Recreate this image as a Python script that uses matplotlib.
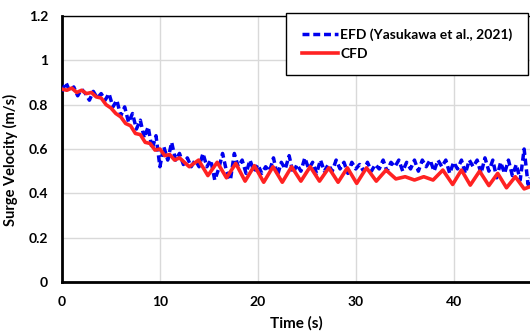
import numpy as np
import matplotlib
matplotlib.use("Agg")
import matplotlib.pyplot as plt

plt.rcParams['font.family'] = ['Lato', 'DejaVu Sans']
plt.rcParams['font.weight'] = 'bold'

# ---- data ----
efd_t = list(np.round(np.arange(0, 47.7, 0.4), 1)) + [47.8]
efd_v = [0.86, 0.90, 0.86, 0.88, 0.84, 0.87, 0.85, 0.82, 0.86, 0.83,
         0.85, 0.82, 0.85, 0.79, 0.82, 0.75, 0.79, 0.72, 0.76, 0.69,
         0.73, 0.65, 0.70, 0.60, 0.66, 0.52, 0.61, 0.55, 0.63, 0.55,
         0.58, 0.53, 0.56, 0.52, 0.55, 0.52, 0.58, 0.52, 0.55, 0.46,
         0.51, 0.58, 0.50, 0.46, 0.58, 0.52, 0.55, 0.49, 0.55, 0.50,
         0.53, 0.49, 0.52, 0.50, 0.56, 0.48, 0.54, 0.51, 0.57, 0.49,
         0.53, 0.50, 0.56, 0.51, 0.54, 0.49, 0.55, 0.50, 0.53, 0.50,
         0.55, 0.51, 0.54, 0.49, 0.54, 0.51, 0.53, 0.50, 0.54, 0.50,
         0.53, 0.51, 0.55, 0.50, 0.54, 0.52, 0.55, 0.50, 0.54, 0.51,
         0.55, 0.50, 0.55, 0.52, 0.55, 0.50, 0.55, 0.52, 0.55, 0.49,
         0.54, 0.51, 0.55, 0.49, 0.55, 0.52, 0.55, 0.49, 0.56, 0.50,
         0.55, 0.47, 0.54, 0.49, 0.55, 0.48, 0.53, 0.46, 0.60, 0.44,
         0.47]

cfd_t = [0.0, 0.5, 1.0, 1.5, 2.0, 2.5, 3.0, 3.5, 4.0, 4.5, 5.0, 5.5, 6.0,
         6.5, 7.0, 7.5, 8.0, 8.5, 9.0, 9.5, 10.0, 10.5, 11.0, 11.5, 12.0,
         12.5, 13.0, 13.95, 14.9, 15.85, 16.8, 17.75, 18.7, 19.65, 20.6,
         21.55, 22.5, 23.45, 24.4, 25.35, 26.3, 27.25, 28.2, 29.15, 30.1,
         31.1, 32.1, 33.1, 34.1, 35.05, 36.0, 36.95, 37.9, 38.9, 39.9,
         40.8, 41.7, 42.65, 43.6, 44.5, 45.4, 46.3, 47.2, 47.8]
cfd_v = [0.87, 0.865, 0.875, 0.855, 0.865, 0.85, 0.855, 0.835, 0.83, 0.80,
         0.785, 0.76, 0.745, 0.715, 0.705, 0.67, 0.665, 0.63, 0.625, 0.595,
         0.60, 0.57, 0.575, 0.55, 0.56, 0.54, 0.52, 0.55, 0.48, 0.54,
         0.47, 0.535, 0.455, 0.525, 0.45, 0.52, 0.45, 0.52, 0.455, 0.52,
         0.455, 0.515, 0.45, 0.515, 0.445, 0.515, 0.455, 0.505, 0.465, 0.475,
         0.46, 0.475, 0.46, 0.505, 0.44, 0.505, 0.437, 0.50, 0.435, 0.49,
         0.425, 0.475, 0.42, 0.43]

start_t = [0.0, 0.0]
start_v = [0.40, 0.87]

x_ticks = [0, 10, 20, 30, 40]
y_ticks = [0, 0.2, 0.4, 0.6, 0.8, 1.0, 1.2]
y_tick_labels = ['0', '0.2', '0.4', '0.6', '0.8', '1', '1.2']

# ---- figure ----
fig = plt.figure(figsize=(5.3, 3.36), dpi=100)
ax = fig.add_axes([62/530, 1-282/336, 1-62/530, (282-16)/336])

ax.plot(start_t, start_v, color='#a6a6a6', lw=2.2, solid_capstyle='butt', zorder=2)
ax.plot(efd_t, efd_v, color='#0000ee', lw=2.5, linestyle=(0, (2.0, 1.1)),
        label='EFD (Yasukawa et al., 2021)', zorder=3)
ax.plot(cfd_t, cfd_v, color='#ff2222', lw=2.6, label='CFD', zorder=4,
        solid_joinstyle='round')

ax.set_xlim(0, 47.8)
ax.set_ylim(0, 1.2)
ax.set_xticks(x_ticks)
ax.set_yticks(y_ticks)
ax.set_yticklabels(y_tick_labels)
ax.tick_params(length=0, labelsize=10)
ax.tick_params(axis='y', pad=10)
ax.tick_params(axis='x', pad=10)
for lab in ax.get_xticklabels() + ax.get_yticklabels():
    lab.set_fontweight('bold')
ax.grid(True, color='#d9d9d9', lw=1)
ax.set_axisbelow(True)

ax.spines['right'].set_visible(False)
ax.spines['top'].set_linewidth(1.0)
ax.spines['left'].set_linewidth(2.0)
ax.spines['bottom'].set_linewidth(2.0)

ax.set_xlabel('Time (s)', fontsize=11, fontweight='bold', labelpad=6)
ax.set_ylabel('Surge Velocity (m/s)', fontsize=10.5, fontweight='bold')
ax.yaxis.set_label_coords(-0.094, 0.46)

leg = ax.legend(loc='upper right', bbox_to_anchor=(528/530, 1-13/336),
                bbox_transform=fig.transFigure, borderaxespad=0,
                fancybox=False, framealpha=1, edgecolor='black',
                prop={'weight': 'bold', 'size': 10},
                handlelength=2.6, handletextpad=0.2, labelspacing=0.5,
                borderpad=1.1)
leg.get_frame().set_linewidth(1.0)

fig.savefig('out.png', dpi=100)
